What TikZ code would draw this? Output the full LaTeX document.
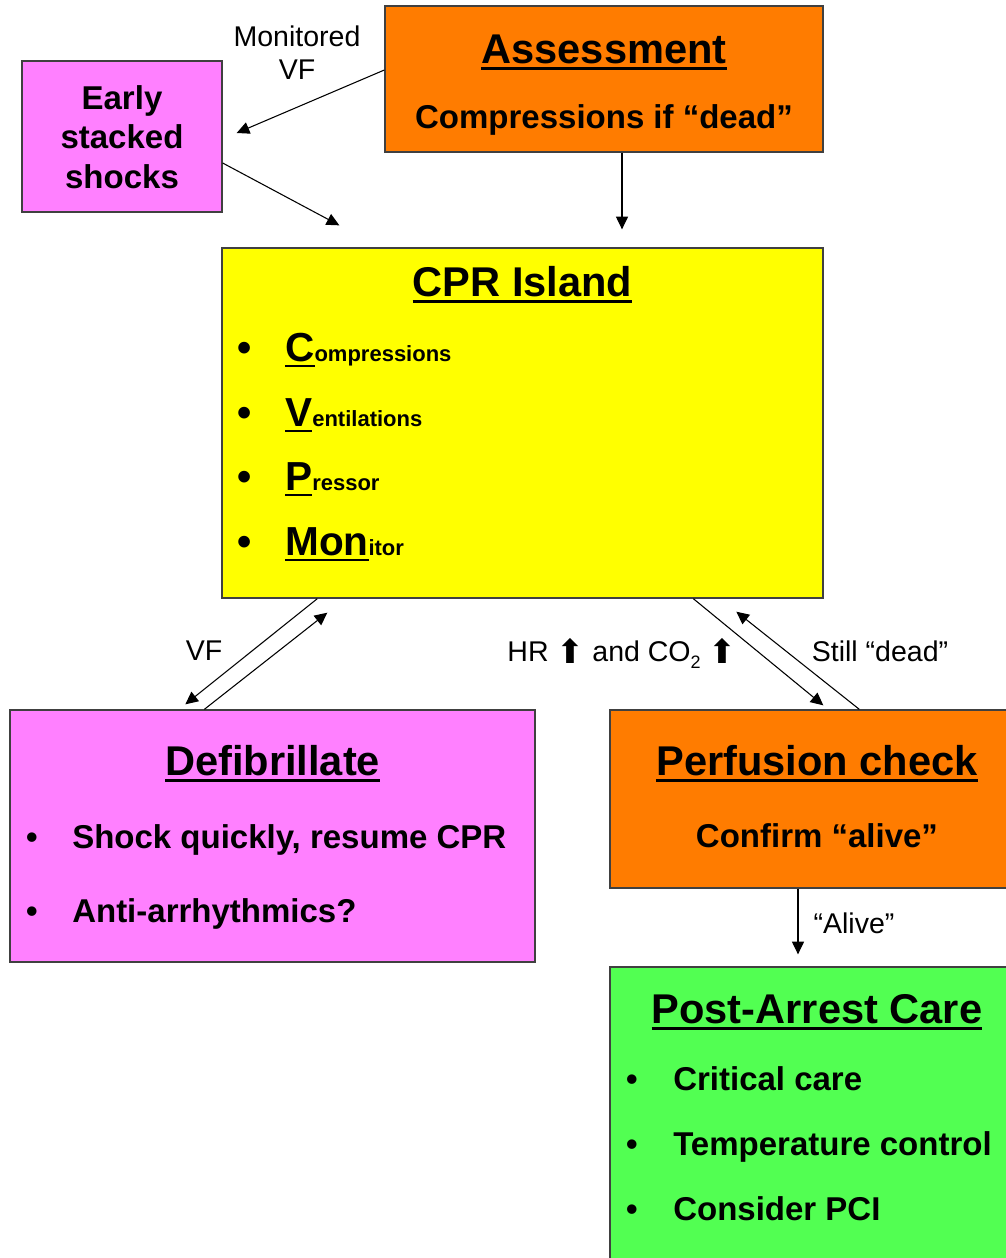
\documentclass[tikz,border=0pt]{standalone}
\usepackage{fontspec}
\setmainfont{Liberation Sans}
\newfontfamily\arrowfont{DejaVu Sans}
\usepackage{tikz}
\usetikzlibrary{arrows.meta,calc}

\definecolor{assessorange}{RGB}{255,124,0}
\definecolor{shockpink}{RGB}{255,128,255}
\definecolor{islandyellow}{RGB}{255,255,0}
\definecolor{caregreen}{RGB}{82,255,82}

\newcommand\titlefont{\fontsize{31.2}{37}\selectfont\bfseries}
\newcommand\bodyfont{\fontsize{24.75}{29.6}\selectfont\bfseries}
\newcommand\lblfont{\fontsize{21.4}{24.75}\selectfont}
\newcommand\undl[1]{\leavevmode\setbox0\hbox{#1}\rlap{\rule[-0.16em]{\wd0}{0.07em}}\box0}
\newcommand\leadcap[1]{{\fontsize{30.4}{36}\selectfont\undl{#1}}}
\newcommand\cprtail[1]{{\fontsize{16.5}{20}\selectfont #1}}
\newcommand\uparr{\raisebox{-1.5pt}{\arrowfont\fontsize{25}{26}\selectfont ⬆}}

\begin{document}
\begin{tikzpicture}[x=0.75pt, y=-0.75pt,
    box/.style={rectangle, draw=black!75, line width=1pt, inner sep=0pt},
    title/.style={font=\titlefont, anchor=base, inner sep=0pt},
    body/.style={font=\bodyfont, anchor=base, inner sep=0pt},
    lbl/.style={font=\lblfont, anchor=base, inner sep=0pt},
    item/.style={font=\bodyfont, anchor=base west, inner sep=0pt},
    bullet/.style={font=\bodyfont, anchor=base, inner sep=0pt},
    bigbullet/.style={font=\fontsize{30.4}{36}\selectfont\bfseries, anchor=base, inner sep=0pt},
    arr/.style={-{Triangle[length=9.5pt, width=9pt]}, line width=0.8pt},
]
\clip (0,0) rectangle (1006,1258);

% === ASSESSMENT ===
\node[box, fill=assessorange, minimum width=328.5pt, minimum height=109.5pt] (assess) at (604,79) {};
\node[title] (assess-t) at (604,63) {\undl{Assessment}};
\node[body] (assess-b) at (604,128) {Compressions if “dead”};

% === EARLY SHOCKS ===
\node[box, fill=shockpink, minimum width=150pt, minimum height=113.25pt] (early) at (122,136.5) {};
\node[body, anchor=center, align=center] (early-t) at (122,137) {Early\\stacked\\shocks};

% === CPR ISLAND ===
\node[box, fill=islandyellow, minimum width=450.75pt, minimum height=262.5pt] (cpr) at (522.5,423) {};
\node[title] (cpr-t) at (522.5,296) {\undl{CPR Island}};
\node[bigbullet] (cpr-b1) at (245,361) {•};
\node[item] (cpr-c) at (285,361) {\leadcap{C}\cprtail{ompressions}};
\node[bigbullet] (cpr-b2) at (245,426) {•};
\node[item] (cpr-v) at (285,426) {\leadcap{V}\cprtail{entilations}};
\node[bigbullet] (cpr-b3) at (245,490) {•};
\node[item] (cpr-p) at (285,490) {\leadcap{P}\cprtail{ressor}};
\node[bigbullet] (cpr-b4) at (245,555) {•};
\node[item] (cpr-m) at (285,555) {\leadcap{Mon}\cprtail{itor}};

% === DEFIBRILLATE ===
\node[box, fill=shockpink, minimum width=393.75pt, minimum height=189pt] (defib) at (272.5,836) {};
\node[title] (defib-t) at (272.5,775) {\undl{Defibrillate}};
\node[bullet] (defib-b1) at (32,848) {•};
\node[item] (defib-i1) at (72,848) {Shock quickly, resume CPR};
\node[bullet] (defib-b2) at (32,922) {•};
\node[item] (defib-i2) at (72,922) {Anti-arrhythmics?};

% === PERFUSION CHECK ===
\node[box, fill=assessorange, minimum width=310.5pt, minimum height=133.5pt] (perf) at (817,799) {};
\node[title] (perf-t) at (817,775) {\undl{Perfusion check}};
\node[body] (perf-b) at (817,847) {Confirm “alive”};

% === POST-ARREST CARE ===
\node[box, fill=caregreen, minimum width=310.5pt, minimum height=247.5pt] (post) at (817,1132) {};
\node[title] (post-t) at (817,1023) {\undl{Post-Arrest Care}};
\node[bullet] (post-b1) at (632,1090) {•};
\node[item] (post-i1) at (673,1090) {Critical care};
\node[bullet] (post-b2) at (632,1155) {•};
\node[item] (post-i2) at (673,1155) {Temperature control};
\node[bullet] (post-b3) at (632,1220) {•};
\node[item] (post-i3) at (673,1220) {Consider PCI};

% === CONNECTORS ===
\draw[arr] ($(assess.west)+(0,-9)$) -- ($(early.east)+(14,-3.5)$);
\draw[arr] ($(early.east)+(0,26.5)$) -- ($(cpr.north west)+(118,-22)$);
\draw[arr] ($(assess.south)+(18,0)$) -- ($(cpr.north)+(99.5,-18)$);
\draw[arr] ($(cpr.south west)+(96,0)$) -- ($(defib.north west)+(176,-5)$);
\draw[arr] ($(defib.north west)+(195,0)$) -- ($(cpr.south west)+(106,14)$);
\draw[arr] ($(cpr.south west)+(472,0)$) -- ($(perf.north west)+(214,-4)$);
\draw[arr] ($(perf.north west)+(250,0)$) -- ($(cpr.south west)+(515,13)$);
\draw[arr] ($(perf.south)+(-19,0)$) -- ($(post.north)+(-19,-12)$);

% connector labels
\node[lbl, anchor=center, align=center] (mvf) at (297,53) {Monitored\\VF};
\node[lbl] (vf) at (204,660) {VF};
\node[lbl] (rise) at (622,661) {HR \uparr{} and CO\raisebox{-5.25pt}{\fontsize{13.5}{14}\selectfont 2} \uparr};
\node[lbl] (still) at (880,661) {Still “dead”};
\node[lbl] (alive) at (854,933) {“Alive”};

\end{tikzpicture}
\end{document}
